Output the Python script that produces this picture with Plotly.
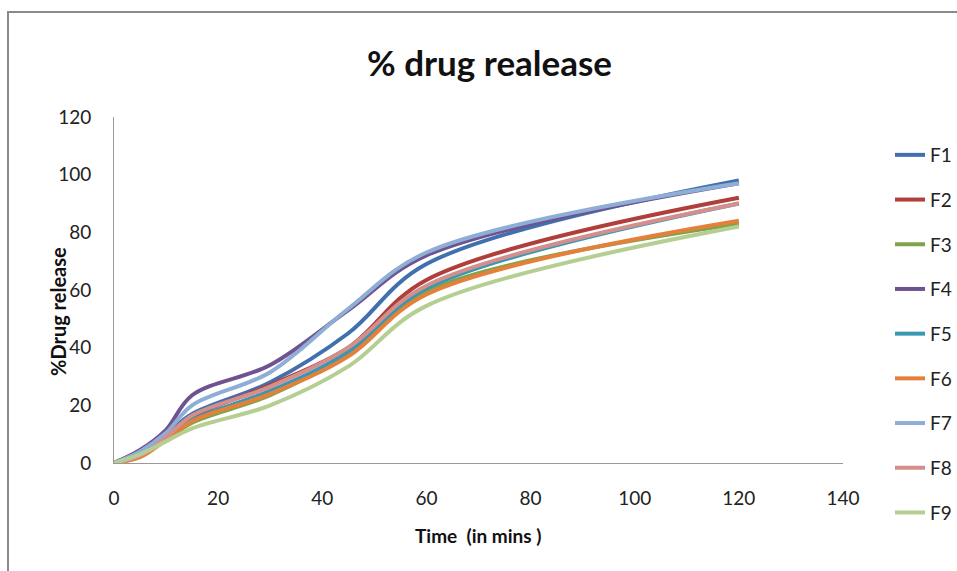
import plotly.graph_objects as go

time_min = [0, 5, 10, 15, 30, 45, 60, 120]
F1 = [0, 4, 10, 17, 28, 45, 69, 98]
F2 = [0, 3, 9, 16, 27, 40, 63.5, 92]
F3 = [0, 3, 8, 14, 23.5, 38, 59.5, 83]
F4 = [0, 4.5, 11.5, 23.5, 34, 53, 72, 97]
F5 = [0, 3.5, 9, 15, 25, 38.5, 60.5, 90]
F6 = [0, 2, 8, 14.5, 24, 37, 58.5, 84]
F7 = [0, 4, 10.5, 20, 31.5, 53.5, 73, 97]
F8 = [0, 2.5, 9, 16.5, 26.5, 40, 61.5, 90]
F9 = [0, 3, 7.5, 12, 20, 33.5, 54.5, 82]

names = ["F1", "F2", "F3", "F4", "F5", "F6", "F7", "F8", "F9"]
series = [F1, F2, F3, F4, F5, F6, F7, F8, F9]
colors = ["#4070AE", "#B03E3B", "#7FA34A", "#6E5390", "#3898B2",
          "#E5803A", "#8FAED6", "#D48F8D", "#B5CE92"]

FONT = "Lato"

fig = go.Figure()
for i, (n, s, c) in enumerate(zip(names, series, colors)):
    fig.add_trace(go.Scatter(
        x=time_min, y=s, name=n, mode="lines",
        line=dict(color=c, width=4, shape="spline", smoothing=1.0),
        legendgroup=n,
    ))

W, H = 957, 571
L, R, T, B = 114, 843, 117, 463
pw, ph = R - L, B - T

def px2paper_x(px):
    return (px - L) / pw

def px2paper_y(py):
    return (B - py) / ph

fig.update_layout(
    width=W, height=H,
    margin=dict(l=L, r=W - R, t=T, b=H - B, autoexpand=False),
    paper_bgcolor="white", plot_bgcolor="white",
    font=dict(family=FONT, size=18, color="#222222"),
    showlegend=True,
    legend=dict(
        x=px2paper_x(890), y=px2paper_y(136), xanchor="left", yanchor="top",
        font=dict(family=FONT, size=19, color="#222222"),
        tracegroupgap=17, itemwidth=30, maxheight=1000,
        bgcolor="rgba(0,0,0,0)",
    ),
    xaxis=dict(
        range=[0, 140], tickvals=[0, 20, 40, 60, 80, 100, 120, 140],
        showgrid=False, zeroline=False, showline=True,
        linecolor="#9a9a9a", linewidth=1, ticks="",
        ticklabelstandoff=18, tickfont=dict(size=19),
    ),
    yaxis=dict(
        range=[0, 120], tickvals=[0, 20, 40, 60, 80, 100, 120],
        showgrid=False, zeroline=False, showline=True,
        linecolor="#9a9a9a", linewidth=1, ticks="",
        ticklabelstandoff=18, tickfont=dict(size=19),
    ),
    annotations=[
        dict(text="<b>% drug realease</b>", xref="paper", yref="paper",
             x=px2paper_x(490), y=px2paper_y(62), showarrow=False,
             xanchor="center", yanchor="middle",
             font=dict(family=FONT, size=35, color="#111111")),
        dict(text="<b>Time  (in mins )</b>", xref="paper", yref="paper",
             x=px2paper_x(478), y=px2paper_y(535), showarrow=False,
             xanchor="center", yanchor="middle",
             font=dict(family=FONT, size=19, color="#111111")),
        dict(text="<b>%Drug release</b>", xref="paper", yref="paper",
             x=px2paper_x(58), y=px2paper_y(311), showarrow=False,
             textangle=-90, xanchor="center", yanchor="middle",
             font=dict(family=FONT, size=20, color="#111111")),
    ],
    shapes=[
        dict(type="rect", xref="paper", yref="paper",
             x0=px2paper_x(8), x1=px2paper_x(990),
             y0=px2paper_y(600), y1=px2paper_y(12),
             line=dict(color="#8a8a8a", width=2), fillcolor="rgba(0,0,0,0)",
             layer="below"),
    ],
)

fig.write_html("out.html")
